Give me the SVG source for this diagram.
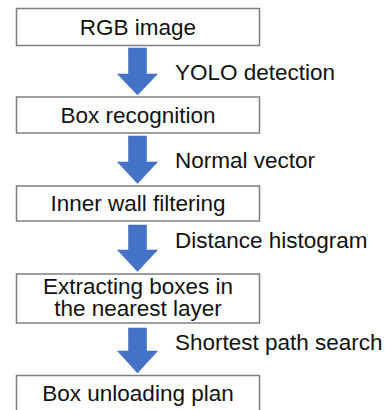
<svg xmlns="http://www.w3.org/2000/svg" width="390" height="410" viewBox="0 0 390 410">
<style>
.box{fill:#fff;stroke:#7f7f7f;stroke-width:1.5}
.t{font-family:"Liberation Sans",Arial,sans-serif;font-size:22.5px;fill:#111}
.c{text-anchor:middle}
.arr{fill:#4472c4;stroke:#3a64b0;stroke-width:0.5}
</style>
<rect width="390" height="410" fill="#fff"/>
<g id="connectors">
<path class="arr" d="M128.5 48H146.5V74H157.5L137.5 95L117.5 74H128.5Z"/>
<text class="t" x="175" y="80">YOLO detection</text>
<path class="arr" d="M128.5 136H146.5V162H157.5L137.5 183.5L117.5 162H128.5Z"/>
<text class="t" x="175" y="168">Normal vector</text>
<path class="arr" d="M128.5 225H146.5V250H157.5L137.5 271.5L117.5 250H128.5Z"/>
<text class="t" x="175" y="248">Distance histogram</text>
<path class="arr" d="M128.5 328H146.5V351H157.5L137.5 373L117.5 351H128.5Z"/>
<text class="t" x="175" y="350">Shortest path search</text>
</g>
<g id="n1"><rect class="box" x="16.5" y="8.5" width="243" height="37"/><text class="t c" x="138" y="35">RGB image</text></g>
<g id="n2"><rect class="box" x="16.5" y="97" width="243" height="36"/><text class="t c" x="138" y="123">Box recognition</text></g>
<g id="n3"><rect class="box" x="16.5" y="186" width="243" height="35"/><text class="t c" x="138" y="211">Inner wall filtering</text></g>
<g id="n4"><rect class="box" x="16.5" y="274" width="243" height="49"/><text class="t c" x="138" y="294">Extracting boxes in</text><text class="t c" x="138" y="316">the nearest layer</text></g>
<g id="n5"><rect class="box" x="16.5" y="375.5" width="243" height="40"/><text class="t c" x="138" y="401">Box unloading plan</text></g>
</svg>
